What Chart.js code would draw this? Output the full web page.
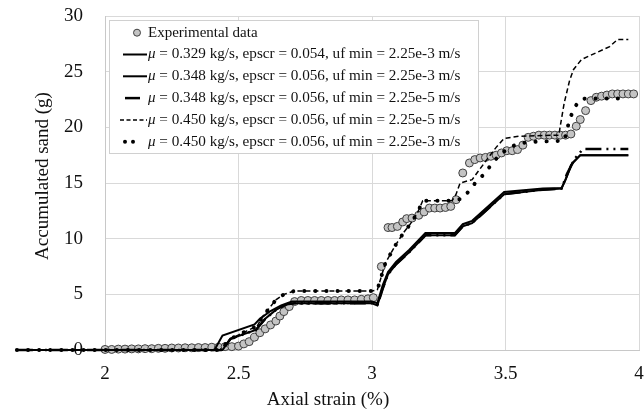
<!DOCTYPE html>
<html><head><meta charset="utf-8">
<script src="https://cdn.jsdelivr.net/npm/chart.js@4.4.1/dist/chart.umd.min.js"></script>
<style>html,body{margin:0;padding:0;background:#fff}#wrap{width:644px;height:415px;position:relative}</style>
</head><body><div id="wrap"><canvas id="c"></canvas></div>
<script>
// ---- data ----
const seriesNames = [
  "Experimental data",
  "μ = 0.329 kg/s, epscr = 0.054, uf min = 2.25e-3 m/s",
  "μ = 0.348 kg/s, epscr = 0.056, uf min = 2.25e-3 m/s",
  "μ = 0.348 kg/s, epscr = 0.056, uf min = 2.25e-5 m/s",
  "μ = 0.450 kg/s, epscr = 0.056, uf min = 2.25e-5 m/s",
  "μ = 0.450 kg/s, epscr = 0.056, uf min = 2.25e-3 m/s"
];
const xTitle = "Axial strain (%)";
const yTitle = "Accumulated sand (g)";

const expX = [2.000,2.025,2.050,2.075,2.100,2.125,2.150,2.175,2.200,2.225,2.250,2.275,2.300,2.325,2.350,2.375,2.400,2.425,2.450,2.475,2.500,2.520,2.540,2.560,2.580,2.600,2.620,2.640,2.655,2.670,2.690,2.710,2.735,2.760,2.785,2.810,2.835,2.860,2.885,2.910,2.935,2.960,2.985,3.005,3.035,3.060,3.075,3.095,3.115,3.130,3.150,3.175,3.195,3.215,3.235,3.255,3.275,3.295,3.315,3.340,3.365,3.385,3.405,3.425,3.445,3.465,3.485,3.505,3.525,3.545,3.565,3.585,3.605,3.625,3.645,3.665,3.685,3.705,3.725,3.745,3.765,3.780,3.800,3.820,3.840,3.860,3.880,3.900,3.920,3.940,3.960,3.980];
const expY = [0.05,0.05,0.08,0.08,0.1,0.1,0.12,0.12,0.15,0.15,0.18,0.18,0.2,0.2,0.22,0.22,0.25,0.25,0.3,0.3,0.35,0.55,0.75,1.15,1.55,1.9,2.25,2.6,3.05,3.45,3.9,4.35,4.45,4.45,4.45,4.45,4.45,4.45,4.5,4.5,4.5,4.55,4.6,4.7,7.5,11.0,11.0,11.1,11.5,11.8,11.85,12.1,12.4,12.75,12.75,12.75,12.8,12.9,13.5,15.9,16.8,17.1,17.25,17.3,17.4,17.5,17.7,17.9,17.9,18.0,18.4,19.1,19.2,19.3,19.3,19.3,19.3,19.3,19.3,19.4,20.1,20.7,21.5,22.4,22.7,22.8,22.9,23.0,23.0,23.0,23.0,23.0];

const s1X = [1.67,2.41,2.44,2.56,2.58,2.62,2.66,2.70,3.00,3.02,3.04,3.06,3.09,3.14,3.20,3.31,3.34,3.375,3.495,3.64,3.71,3.725,3.745,3.78,3.96];
const s1Y = [0,0,1.3,2.3,2.8,3.5,4.0,4.35,4.35,4.2,5.8,7.0,7.9,9.0,10.5,10.5,11.3,11.6,14.2,14.5,14.55,15.3,16.6,17.5,17.5];

const s2X = [1.67,2.44,2.47,2.565,2.60,2.64,2.68,2.71,3.00,3.02,3.04,3.06,3.09,3.14,3.20,3.31,3.34,3.375,3.495,3.64,3.71,3.73,3.75,3.78,3.96];
const s2Y = [0,0,1.0,1.8,2.8,3.6,4.1,4.2,4.2,4.0,5.5,6.8,7.7,8.8,10.3,10.3,11.1,11.4,14.0,14.4,14.5,15.6,16.8,17.5,17.5];

const s3X = [1.67,2.44,2.47,2.565,2.60,2.64,2.68,2.71,3.00,3.02,3.04,3.06,3.09,3.14,3.20,3.31,3.34,3.375,3.495,3.64,3.71,3.73,3.76,3.79,3.96];
const s3Y = [0,0,1.0,1.8,2.8,3.6,4.1,4.2,4.2,4.0,5.5,6.8,7.7,8.8,10.3,10.3,11.1,11.4,14.0,14.4,14.5,15.8,17.2,18.05,18.05];

const s4X = [1.67,2.43,2.47,2.53,2.57,2.59,2.62,2.64,2.67,2.71,3.00,3.02,3.035,3.05,3.085,3.12,3.14,3.17,3.19,3.30,3.315,3.33,3.375,3.43,3.465,3.495,3.55,3.70,3.705,3.72,3.74,3.755,3.785,3.84,3.89,3.92,3.96];
const s4Y = [0,0,1.0,1.7,2.15,3.0,3.9,4.5,5.0,5.3,5.3,5.4,6.6,7.8,9.3,10.6,11.2,12.3,13.4,13.4,14.0,15.0,15.3,17.1,18.2,19.0,19.2,19.3,20.1,22.2,24.2,25.2,26.1,26.7,27.25,27.9,27.9];

const s5X = [1.67,2.43,2.47,2.53,2.57,2.59,2.62,2.64,2.67,2.71,3.00,3.02,3.035,3.05,3.085,3.12,3.14,3.17,3.19,3.30,3.34,3.37,3.39,3.42,3.445,3.48,3.525,3.56,3.61,3.72,3.73,3.74,3.755,3.775,3.80,3.96];
const s5Y = [0,0,1.0,1.7,2.15,3.0,3.9,4.5,5.0,5.3,5.3,5.4,6.6,7.8,9.3,10.6,11.2,12.3,13.4,13.4,13.6,14.5,15.1,15.8,16.6,17.6,18.3,18.6,18.7,18.8,19.75,20.7,21.6,22.4,22.6,22.6];

const xTicks = [2, 2.5, 3, 3.5, 4];
const yTicks = [0, 5, 10, 15, 20, 25, 30];

// ---- build ----
const pts = (xs, ys) => xs.map((x, i) => ({x: x, y: ys[i]}));
const FONT = "'Liberation Serif', 'Times New Roman', serif";

const lineStyles = [
  null,
  {borderWidth: 2, borderDash: []},
  {borderWidth: 2, borderDash: []},
  {borderWidth: 2.5, borderDash: [16, 5, 2, 5, 2, 5]},
  {borderWidth: 1.5, borderDash: [5, 3]},
  {borderWidth: 4, borderDash: [0.1, 11], borderCapStyle: 'round'}
];
const simData = [[s1X,s1Y],[s2X,s2Y],[s3X,s3Y],[s4X,s4Y],[s5X,s5Y]];

const datasets = [{
  label: seriesNames[0],
  data: pts(expX, expY),
  showLine: false,
  pointRadius: 4,
  pointBackgroundColor: '#c4c4c4',
  pointBorderColor: '#404040',
  pointBorderWidth: 1,
  order: 10,
  clip: false
}];
simData.forEach((d, i) => {
  const st = lineStyles[i + 1];
  datasets.push(Object.assign({
    label: seriesNames[i + 1],
    data: pts(d[0], d[1]),
    showLine: true,
    borderColor: '#000',
    backgroundColor: '#000',
    pointRadius: 0,
    tension: 0,
    order: 5 - i,
    clip: false
  }, st));
});

const boxLegend = {
  id: 'boxLegend',
  afterDatasetsDraw(chart) {
    const ctx = chart.ctx;
    ctx.save();
    ctx.fillStyle = '#fff';
    ctx.strokeStyle = '#d0d0d0';
    ctx.lineWidth = 1;
    ctx.fillRect(109.5, 20.5, 369, 133);
    ctx.strokeRect(109.5, 20.5, 369, 133);
    const y0 = 32.7, dy = 21.8, tx = 148;
    ctx.textBaseline = 'middle';
    ctx.fillStyle = '#111';
    seriesNames.forEach((name, i) => {
      const y = y0 + i * dy;
      ctx.save();
      ctx.strokeStyle = '#000';
      if (i === 0) {
        ctx.beginPath(); ctx.arc(137, y, 3.5, 0, Math.PI * 2);
        ctx.fillStyle = '#c4c4c4'; ctx.fill();
        ctx.strokeStyle = '#404040'; ctx.lineWidth = 1; ctx.stroke();
      } else if (i === 1 || i === 2) {
        ctx.lineWidth = 2; ctx.beginPath(); ctx.moveTo(123, y); ctx.lineTo(147, y); ctx.stroke();
      } else if (i === 3) {
        ctx.lineWidth = 2.5; ctx.beginPath(); ctx.moveTo(125, y); ctx.lineTo(140, y); ctx.stroke();
      } else if (i === 4) {
        ctx.lineWidth = 1.5; ctx.setLineDash([4, 2.5]); ctx.beginPath(); ctx.moveTo(120, y); ctx.lineTo(147, y); ctx.stroke();
      } else {
        ctx.fillStyle = '#000';
        [125, 133].forEach(cx => { ctx.beginPath(); ctx.arc(cx, y, 2, 0, Math.PI * 2); ctx.fill(); });
      }
      ctx.restore();
      if (i === 0) {
        ctx.font = '15px ' + FONT;
        ctx.fillText(name, tx, y);
      } else {
        const mu = name.charAt(0), rest = name.slice(1);
        ctx.font = 'italic 15px ' + FONT;
        ctx.fillText(mu, tx, y);
        const w = ctx.measureText(mu).width;
        ctx.font = '15.2px ' + FONT;
        ctx.fillText(rest, tx + w, y);
      }
    });
    ctx.restore();
  }
};

const axisTitles = {
  id: 'axisTitles',
  afterDraw(chart) {
    const ctx = chart.ctx;
    ctx.save();
    ctx.fillStyle = '#111';
    ctx.font = '19px ' + FONT;
    ctx.textAlign = 'center';
    ctx.textBaseline = 'middle';
    ctx.fillText(xTitle, 328, 400);
    ctx.translate(43, 176);
    ctx.rotate(-Math.PI / 2);
    ctx.fillText(yTitle, 0, 0);
    ctx.restore();
  }
};

new Chart(document.getElementById('c'), {
  type: 'scatter',
  data: {datasets: datasets},
  plugins: [boxLegend, axisTitles],
  options: {
    responsive: true,
    maintainAspectRatio: false,
    animation: false,
    layout: {padding: {top: 16, right: 0, left: 0, bottom: 0}},
    plugins: {legend: {display: false}, tooltip: {enabled: false}},
    scales: {
      x: {
        type: 'linear', min: 2, max: 4,
        afterBuildTicks: s => { s.ticks = xTicks.map(v => ({value: v})); },
        afterFit: s => { s.height = 65; },
        ticks: {color: '#111', font: {family: FONT, size: 19}, padding: 0, maxRotation: 0,
                callback: v => String(v)},
        grid: {color: '#d9d9d9', lineWidth: 1, drawTicks: true, tickLength: 13, tickColor: 'rgba(0,0,0,0)'},
        border: {color: '#c8c8c8', width: 1}
      },
      y: {
        type: 'linear', min: 0, max: 30,
        afterBuildTicks: s => { s.ticks = yTicks.map(v => ({value: v})); },
        afterFit: s => { s.width = 105; },
        ticks: {color: '#111', font: {family: FONT, size: 19}, padding: 1,
                callback: v => String(v)},
        grid: {color: '#d9d9d9', lineWidth: 1, drawTicks: true, tickLength: 21, tickColor: 'rgba(0,0,0,0)'},
        border: {color: '#c8c8c8', width: 1}
      }
    }
  }
});
</script></body></html>
